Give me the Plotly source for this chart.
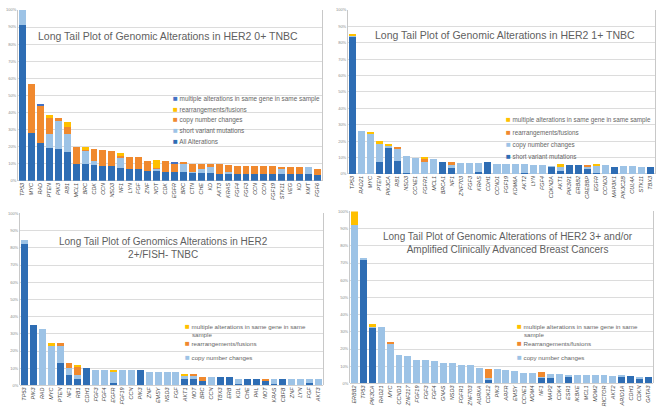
import plotly.graph_objects as go

W, H = 660, 420

DARK = "#2E6DB4"
LIGHT = "#9DC3E6"
ORANGE = "#F0892E"
YELLOW = "#FFC000"
MULTI_BLUE = "#4472C4"

# ---------------- Panel 1: HER2 0+ TNBC ----------------
cats0 = ["TP53", "MYC", "RAD", "PTEN", "PIK3", "RB1", "MCL1", "BRC", "CDK", "CCN", "NSD3", "NF1",
         "LYN", "FGF", "ZNF", "NOT", "CDK", "EGFR", "BRC", "CTN", "CHE", "KD", "AKT3", "KRAS",
         "FGF4", "FGF3", "CCN", "CCN", "FGF19", "STK11", "VEG", "KD", "KMT", "FGF6"]
all0 = [91, 28, 22, 19.2, 18.7, 16.9, 9.6, 9.6, 9.2, 8.7, 8.7, 7.7, 6.7, 6.7, 5.8, 5.8, 5.4, 5.2,
        5.2, 4.8, 4.8, 4.8, 4.2, 4.2, 4.2, 4.2, 4.2, 4.2, 4.2, 3.8, 3.8, 3.8, 3.8, 3.5]
short0 = [9, 0, 0, 8.3, 16.3, 10.6, 0, 7.7, 2.7, 0, 0, 5.8, 0, 0, 0, 1.3, 0, 0,
          4.4, 0.6, 1.9, 3.7, 0, 1.2, 0, 0, 0, 0, 0, 2.9, 0, 0, 4.1, 0]
copy0 = [0, 28.7, 22, 9.4, 1.9, 4.2, 10, 1.2, 6.8, 9.6, 8.6, 1.3, 7.1, 7.1, 6.1, 0.6, 6.1, 5.2,
         1.2, 4.4, 2.9, 1.1, 5.4, 4.0, 4.5, 4.5, 4.5, 4.5, 4.5, 1.4, 4.1, 4.1, 0, 3.6]
rearr0 = [0, 0, 0, 1.9, 0, 2.5, 0, 1.1, 0, 0, 0, 1.4, 0, 0, 0, 4.4, 0, 0,
          0, 0, 0, 0, 0, 0, 0, 0, 0, 0, 0, 0, 0, 0, 0, 0]
multi0 = [0, 0, 0.5, 0, 0, 0, 0, 0, 0, 0, 0, 0, 0, 0, 0, 0, 0, 0.6,
          0, 0, 0, 0, 0, 0, 0, 0, 0, 0, 0, 0, 0, 0, 0, 0]

# ---------------- Panel 2: HER2 1+ TNBC ----------------
cats1 = ["TP53", "RAD21", "MYC", "PTEN", "PIK3CA", "RB1", "NSD3", "CCNE1", "FGFR1", "MCL1", "BRCA1",
         "NF1", "ZNF703", "FGF3", "KRAS", "CDH1", "CCND1", "FGF19", "KDM6A", "AKT2", "LYN", "FGF4",
         "CDKN2A", "AKT1", "PIK3R1", "ERBB2", "CREBBP", "EGFR", "CCND3", "MAP3K1", "PIK3C2B",
         "CUL4A", "STK11", "TBX3"]
short1 = [83.6, 0, 0, 7, 16, 8, 0.6, 0, 0, 0, 7, 3.6, 0, 0, 1, 7, 0, 0, 0, 0.6, 0, 0,
          4.6, 1.6, 5.4, 5.4, 3.4, 0.6, 0, 4.4, 0, 0, 0, 4.4]
copy1 = [0.8, 26, 25, 11, 1, 7, 10.4, 9.6, 7.4, 9.4, 0, 2.4, 6.6, 6.6, 5.6, 0, 6, 6, 6, 5.4, 5.4, 5.4,
         0.2, 2.8, 0, 0, 1.2, 4, 5.4, 0, 4.6, 4.6, 4, 0]
rearr1 = [0, 0, 0, 0, 0, 1.4, 0, 0, 2.0, 0, 0, 1.2, 0, 0, 0, 0, 0, 0, 0, 0, 0, 0,
          0, 0, 0, 0, 1.0, 0, 0, 0, 0, 0, 0, 0]
multi1 = [1.2, 0, 0.5, 2, 1.4, 0, 0, 0, 0.4, 0, 0, 0, 0, 0, 0, 0, 0, 0, 0, 0, 0, 0,
          0, 1.6, 0, 0, 0, 1.4, 0, 0, 0, 0, 0, 0]

# ---------------- Panel 3: HER2 2+/FISH- TNBC ----------------
cats2 = ["TP53", "PIK3", "RAD", "MYC", "PTEN", "NF1", "RB1", "CDH1", "FGF3", "FGF4", "EGFR", "FGF19",
         "CCN", "PIK3", "ZNF", "EMSY", "NSD3", "FGF", "AKT1", "NOT", "BRC", "CCN", "TBX3", "ERB",
         "KDL", "CHE", "PAL", "NOT", "KRAS", "CBFB", "ZNF", "LYN", "FGF", "AKT3"]
short2 = [82.3, 35, 0, 0, 13.1, 6.3, 3.8, 10, 0, 0, 1.2, 0, 0, 9, 0, 0, 0, 0, 3.8, 3.8, 2.3, 0,
          4.8, 4.8, 1, 3.5, 3.5, 2.5, 1, 3.5, 0, 0, 1.2, 0]
copy2 = [2.3, 0, 32.7, 23.1, 10, 3.7, 2.4, 0, 9, 9, 6.5, 9, 9, 0, 7.7, 7.7, 7.7, 7.7, 1.4, 1.4, 0, 4.8,
         0, 0, 2.5, 0, 0, 0, 2.5, 0, 3.5, 3.5, 2.3, 3.5]
rearr2 = [0, 0, 0, 0, 1.5, 3.1, 4.4, 0, 0, 0, 0, 0, 0, 0, 0, 0, 0, 0, 0, 1.1, 2.5, 0,
          0, 0, 0, 0, 0, 1.0, 0, 0, 0, 0, 0, 0]
multi2 = [0, 0, 0, 1.5, 0, 0, 1.3, 0, 0, 0, 1.5, 0, 0, 0, 0, 0, 0, 0, 1.3, 0, 0, 0,
          0, 0, 0, 0, 0, 0, 0, 0, 0, 0, 0, 0]

# ---------------- Panel 4: HER2 3+ and/or amplified ----------------
cats3 = ["ERBB2", "TP53", "PIK3CA", "RAD21", "MYC", "CCND1", "ZNF217", "FGF19", "FGF3", "FGF4", "GNAS",
         "NSD3", "FGFR1", "ZNF703", "AURKA", "CDK12", "PIK3", "ARFR", "EMSY", "CCNE1", "MDM4", "NF1",
         "MAP2", "CDK4", "ESR1", "IKBKE", "MCL1", "MDM2", "RICTOR", "AKT2", "ARID1A", "CDH1", "CDKN",
         "GATA3"]
short3 = [0, 71.8, 32.2, 0, 0, 0, 0, 0, 0, 0, 0, 0, 0, 0, 0, 1.9, 0, 0, 0, 0, 0, 2.9,
          2.9, 0, 3.8, 0, 0, 0, 0, 0, 3.8, 4.2, 2.5, 3.8]
copy3 = [92, 0.4, 0.9, 33.1, 23.2, 16.7, 15.7, 13.8, 13.8, 13.2, 12.1, 12.1, 10.9, 10.9, 9, 1, 8.2,
         7.7, 7.1, 6.3, 6.3, 0.9, 2.5, 5.2, 1, 4.8, 4.8, 4.8, 4.8, 4.2, 0.4, 0, 1.3, 0]
rearr3 = [0, 0, 0, 0, 0.8, 0, 0, 0, 0, 0, 0, 0, 0, 0, 0, 5.7, 0, 0, 0, 0, 0, 2.9,
          0, 0, 0, 0, 0, 0, 0, 0, 0, 0, 0, 0]
multi3 = [8, 0, 1.4, 0, 0, 0, 0, 0, 0, 0, 0, 0, 0, 0, 0, 0, 0, 0, 0, 0, 0, 0,
          0, 0, 0, 0, 0, 0, 0, 0, 0, 0, 0, 0]

MULTI = "multiple alterations in same gene in same sample"
MULTI_WRAP = "multiple alterations in same gene in same<br>&nbsp;&nbsp;&nbsp;&nbsp;sample"

panels = [
    dict(cats=cats0,
         series=[("All Alterations", all0, DARK, True),
                 ("short variant mutations", short0, LIGHT, True),
                 ("copy number changes", copy0, ORANGE, True),
                 ("rearrangements/fusions", rearr0, YELLOW, True),
                 (MULTI, multi0, MULTI_BLUE, True)],
         box=(18, 322, 7, 180),
         title="Long Tail Plot of Genomic Alterations in HER2 0+ TNBC", tsize=10.5, txy=(168, 33),
         legx=171, legy=[97, 107.7, 118.4, 129.1, 139.8], lsize=6.4),
    dict(cats=cats1,
         series=[("short variant mutations", short1, DARK, True),
                 ("copy number changes", copy1, LIGHT, True),
                 ("rearrangements/fusions", rearr1, ORANGE, True),
                 (MULTI, multi1, YELLOW, True)],
         box=(348, 655, 7, 173),
         title="Long Tail Plot of Genomic Alterations in HER2 1+ TNBC", tsize=10.5, txy=(505, 32),
         legx=504, legy=[118, 130.6, 143.2, 155.8], lsize=6.3),
    dict(cats=cats2,
         series=[("short variant mutations", short2, DARK, False),
                 ("copy number changes", copy2, LIGHT, True),
                 ("rearrangements/fusions", rearr2, ORANGE, True),
                 (MULTI_WRAP, multi2, YELLOW, True)],
         box=(20, 323, 213, 387),
         title="Long Tail Plot of Genomics Alterations in HER2<br>2+/FISH- TNBC", tsize=10, txy=(163, 248),
         legx=183, legy=[330.5, 345, 359], lsize=6.2),
    dict(cats=cats3,
         series=[("short variant mutations", short3, DARK, False),
                 ("copy number changes", copy3, LIGHT, True),
                 ("Rearrangements/fusions", rearr3, ORANGE, True),
                 (MULTI_WRAP, multi3, YELLOW, True)],
         box=(350, 653, 211, 385),
         title="Long Tail Plot of Genomic Alterations of HER2 3+ and/or<br>Amplified Clinically Advanced Breast Cancers",
         tsize=10, txy=(508, 243),
         legx=515, legy=[330.5, 345, 359], lsize=6.2),
]

fig = go.Figure()
annotations = []
layout = dict(width=W, height=H, margin=dict(l=0, r=0, t=0, b=0),
              paper_bgcolor="white", plot_bgcolor="white", barmode="stack",
              bargap=0.22, showlegend=False,
              font=dict(family="Liberation Sans, Arial, sans-serif", color="#595959"))

for i, p in enumerate(panels):
    n = "" if i == 0 else str(i + 1)
    xs = list(range(len(p["cats"])))
    for name, vals, color, inleg in p["series"]:
        clean = name.replace("<br>&nbsp;&nbsp;&nbsp;&nbsp;", " ")
        fig.add_trace(go.Bar(x=xs, y=vals, name=clean,
                             marker=dict(color=color, line=dict(width=0)),
                             xaxis="x" + n, yaxis="y" + n))
    x0, x1, y0, y1 = p["box"]
    layout["xaxis" + n] = dict(domain=[x0 / W, x1 / W], anchor="y" + n, range=[-0.5, len(xs) - 0.5],
                               tickmode="array", tickvals=xs, ticktext=p["cats"], tickangle=-90,
                               tickfont=dict(size=5.5, color="#404040", style="italic"),
                               showgrid=False, showline=False, ticks="", fixedrange=True)
    layout["yaxis" + n] = dict(domain=[1 - y1 / H, 1 - y0 / H], anchor="x" + n, range=[0, 100],
                               dtick=10, ticksuffix="%", tickfont=dict(size=4, color="#8a8a8a"),
                               showgrid=True, gridcolor="#DCDCDC", gridwidth=1,
                               zeroline=True, zerolinecolor="#D0D0D0", zerolinewidth=1,
                               showline=True, mirror=True, linecolor="#C8C8C8", linewidth=1,
                               ticks="", fixedrange=True)
    tx, ty = p["txy"]
    annotations.append(dict(text=p["title"], x=tx / W, y=1 - ty / H, xref="paper", yref="paper",
                            xanchor="center", yanchor="middle", showarrow=False,
                            font=dict(size=p["tsize"], color="#5f5f5f")))
    legend_items = [s for s in p["series"] if s[3]][::-1]
    for (name, vals, color, inleg), yy in zip(legend_items, p["legy"]):
        annotations.append(dict(text='<span style="color:%s;font-size:8px">■</span> %s' % (color, name),
                                x=p["legx"] / W, y=1 - yy / H, xref="paper", yref="paper",
                                xanchor="left", yanchor="middle",
                                align="left", showarrow=False,
                                font=dict(size=p["lsize"], color="#666666")))

layout["annotations"] = annotations
fig.update_layout(**layout)
fig.write_html("out.html")
